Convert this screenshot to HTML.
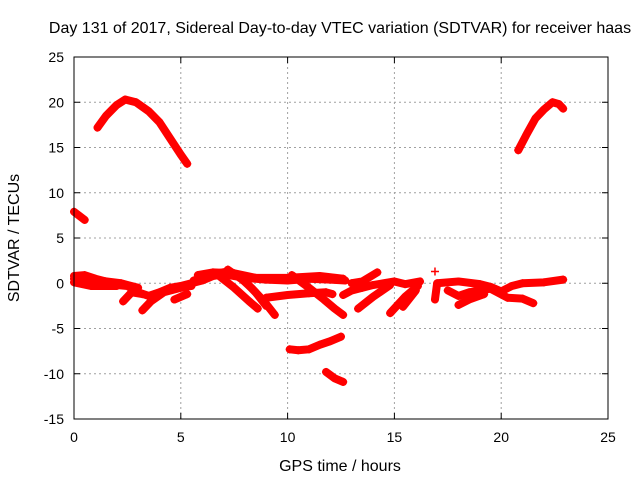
<!DOCTYPE html>
<html><head><meta charset="utf-8"><style>
body{margin:0;background:#fff;}
svg{display:block;font-family:"Liberation Sans",sans-serif;}
</style></head><body>
<svg id="chart" width="640" height="480">
<text x="340" y="33" font-size="16" text-anchor="middle">Day 131 of 2017, Sidereal Day-to-day VTEC variation (SDTVAR) for receiver haas</text>
<text x="340" y="471" font-size="16" text-anchor="middle">GPS time / hours</text>
<text transform="translate(19,238) rotate(-90)" font-size="16" text-anchor="middle">SDTVAR / TECUs</text>
<g id="grid"></g><g id="ticks"></g><g id="marks"></g>
<rect x="74" y="57" width="534" height="362" fill="none" stroke="#000" stroke-width="1"/>
</svg>
<script>
const xTicks=[0,5,10,15,20,25];
const yTicks=[25,20,15,10,5,0,-5,-10,-15];
const trackA=[[1.1,17.2],[1.5,18.5],[2.0,19.7],[2.4,20.3],[2.9,20.0],[3.5,19.0],[4.0,17.8],[4.5,16.0],[5.0,14.2],[5.3,13.2]];
const trackB=[[20.8,14.7],[21.2,16.5],[21.6,18.2],[22.0,19.2],[22.4,20.0],[22.7,19.8],[22.9,19.3]];
const trackC=[[0,7.9],[0.5,7.0]];
const trackD=[[10.1,-7.3],[10.5,-7.4],[11.0,-7.3],[11.5,-6.8],[12.0,-6.4],[12.5,-5.9]];
const trackE=[[11.8,-9.8],[12.2,-10.5],[12.6,-10.9]];
const trackF=[[0,0.8],[0.5,0.9],[1.0,0.5],[1.5,0.2],[2.0,-0.2],[2.5,-0.3],[3.0,-1.0],[3.5,-1.4],[4.0,-1.0],[4.5,-0.5],[5.0,-0.3],[5.5,0.0],[6.0,0.3],[6.5,0.8],[7.0,1.0],[7.5,0.8],[8.0,0.6],[9.0,0.4],[10.0,0.3],[11.0,0.5],[12.0,0.4],[12.7,0.3]];
const trackG=[[0,0.1],[0.8,-0.3],[2.0,-0.3]];
const trackG2=[[0,0.5],[1.2,0.3],[2.2,0],[3.0,-0.5]];
const trackH=[[2.3,-2.0],[2.7,-1.0],[3.2,-1.2]];
const trackI=[[3.2,-3.0],[3.6,-2.0],[4.2,-1.0],[5.0,-0.5],[5.5,-0.3]];
const trackJ=[[4.7,-1.8],[5.3,-1.2]];
const trackK=[[5.6,0.3],[6.5,1.0],[7.2,1.3],[7.7,0.8],[8.3,-0.5],[8.9,-2.0],[9.4,-3.5]];
const trackK2=[[5.8,0.9],[6.5,1.2],[7.5,1.1],[8.5,0.6],[10,0.6],[11.5,0.8],[12.6,0.5]];
const trackL=[[6.8,0.8],[7.5,-0.5],[8.2,-2.0],[8.6,-2.8]];
const trackM=[[7.2,1.5],[8.0,0.2],[8.5,-1.0],[9.0,-2.5]];
const trackN=[[9.0,-1.6],[10,-1.3],[11,-1.1],[11.8,-1.0],[12.1,-1.2]];
const trackO=[[10.2,0.9],[11.0,-0.5],[11.7,-1.8],[12.2,-2.8],[12.6,-3.5]];
const trackP=[[12.6,-1.3],[13,-0.8],[13.5,-0.5],[14,-0.2],[15,0.2],[15.5,-0.1],[16.2,0.2]];
const trackQ=[[13.0,0],[13.5,0.2],[14.2,1.2]];
const trackR=[[13.3,-2.8],[14,-1.5],[14.8,-0.2]];
const trackS=[[14.8,-3.3],[15.5,-1.5],[16.1,-0.3]];
const trackT=[[15.4,-2.6],[16.0,-0.8]];
const trackU=[[16.9,-1.8],[17,0],[18,0.2],[19,-0.1],[19.5,-0.4],[20,-0.9],[20.5,-0.3],[21,0],[22,0.1],[22.9,0.4]];
const trackV=[[17.5,-0.8],[18,-1.4],[18.5,-1.0],[19.5,-0.6],[20.3,-1.6],[21,-1.7],[21.5,-2.2]];
const trackW=[[18,-2.4],[18.5,-1.8],[19.2,-1.2]];
const trackX=[[16.9,1.3]];
const tracks=[trackA,trackB,trackC,trackD,trackE,trackF,trackG,trackG2,trackH,trackI,trackJ,trackK,trackK2,trackL,trackM,trackN,trackO,trackP,trackQ,trackR,trackS,trackT,trackU,trackV,trackW,trackX];
const NS="http://www.w3.org/2000/svg";
const X0=74,X1=608,Y0=419,Y1=57;
function sx(v){return X0+(v-0)/(25-0)*(X1-X0);}
function sy(v){return Y0-(v+15)/(40)*(Y0-Y1);}
function mk(t,a){const e=document.createElementNS(NS,t);for(const k in a)e.setAttribute(k,a[k]);return e;}
const grid=document.getElementById('grid'),ticks=document.getElementById('ticks'),marks=document.getElementById('marks');
xTicks.forEach(t=>{const x=sx(t);
 if(t>0&&t<25){const g=mk('line',{x1:x,x2:x,y1:Y1,y2:Y0,stroke:'#a0a0a0','stroke-dasharray':'2,3'});
 grid.appendChild(g);}
 const tl=mk('line',{x1:x,x2:x,y1:Y0,y2:Y0-6,stroke:'#000'});ticks.appendChild(tl);
 const tm=mk('line',{x1:x,x2:x,y1:Y1,y2:Y1+6,stroke:'#000'});ticks.appendChild(tm);
 const tx=mk('text',{x:x,y:Y0+23,'font-size':14,'text-anchor':'middle'});tx.textContent=t;
 ticks.appendChild(tx);});
yTicks.forEach(t=>{const y=sy(t);
 if(t>-15&&t<25){const g=mk('line',{x1:X0,x2:X1,y1:y,y2:y,stroke:'#a0a0a0','stroke-dasharray':'2,3'});
 grid.appendChild(g);}
 const tl=mk('line',{x1:X0,x2:X0+6,y1:y,y2:y,stroke:'#000'});ticks.appendChild(tl);
 const tr=mk('line',{x1:X1,x2:X1-6,y1:y,y2:y,stroke:'#000'});ticks.appendChild(tr);
 const tx=mk('text',{x:X0-10,y:y+5,'font-size':14,'text-anchor':'end'});tx.textContent=t;
 ticks.appendChild(tx);});
tracks.forEach(tr=>{
 if(tr.length>1){const p=mk('polyline',{points:tr.map(d=>sx(d[0])+','+sy(d[1])).join(' '),fill:'none',stroke:'#ff0000','stroke-width':8,'stroke-linecap':'round','stroke-linejoin':'round'});
 marks.appendChild(p);}
 tr.forEach(d=>{const x=sx(d[0]),y=sy(d[1]);
  const m=mk('path',{d:`M${x-4},${y}H${x+4}M${x},${y-4}V${y+4}`,stroke:'#ff0000','stroke-width':1.5});
  marks.appendChild(m);});
});
</script>
</body></html>
